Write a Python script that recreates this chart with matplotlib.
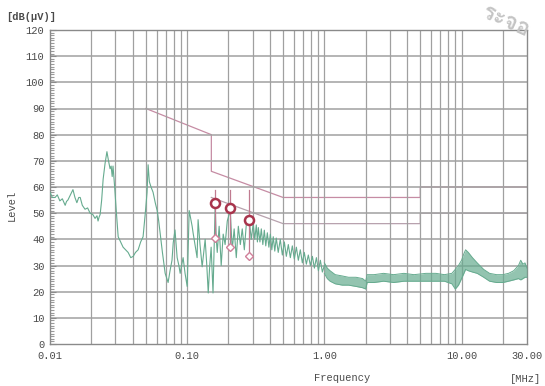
import matplotlib
matplotlib.use("Agg")
import matplotlib.pyplot as plt
from matplotlib.ticker import FixedLocator, NullFormatter, NullLocator, MultipleLocator
from matplotlib import font_manager

# ---- measured trace, 10 kHz .. 1 MHz (frequency in MHz, level in dB(uV)) ----
trace_freq = [
    0.0100, 0.0104, 0.0109, 0.0113, 0.0118, 0.0123, 0.0129, 0.0132, 0.0135, 0.0141,
    0.0147, 0.0152, 0.0157, 0.0162, 0.0166, 0.0172, 0.0180, 0.0188, 0.0196, 0.0205,
    0.0213, 0.0220, 0.0224, 0.0228, 0.0232, 0.0238, 0.0244, 0.0252, 0.0260, 0.0267,
    0.0274, 0.0279, 0.0284, 0.0288, 0.0296, 0.0305, 0.0314, 0.0327, 0.0341, 0.0356,
    0.0371, 0.0388, 0.0404, 0.0420, 0.0439, 0.0458, 0.0477, 0.0495, 0.0510, 0.0519,
    0.0530, 0.0545, 0.0564, 0.0585, 0.0604, 0.0620, 0.0635, 0.0660, 0.0691, 0.0710,
    0.0726, 0.0750, 0.0775, 0.0791, 0.0815, 0.0830, 0.0845, 0.0870, 0.0889, 0.0910,
    0.0934, 0.0965, 0.1000, 0.1034, 0.1060, 0.1087, 0.1104, 0.1140, 0.1181, 0.1201,
    0.1240, 0.1286, 0.1320, 0.1352, 0.1390, 0.1424, 0.1460, 0.1495, 0.1520, 0.1543,
    0.1600, 0.1630, 0.1656, 0.1710, 0.1770, 0.1830, 0.1890, 0.1960, 0.2060, 0.2130,
    0.2200, 0.2280, 0.2360, 0.2440, 0.2520, 0.2610, 0.2700, 0.2840, 0.2930, 0.3030,
    0.3110, 0.3190, 0.3250, 0.3300, 0.3390, 0.3470, 0.3560, 0.3650, 0.3740, 0.3840,
    0.3940, 0.4040, 0.4140, 0.4240, 0.4350, 0.4460, 0.4610, 0.4770, 0.4940, 0.5110,
    0.5280, 0.5460, 0.5650, 0.5840, 0.6040, 0.6250, 0.6460, 0.6680, 0.6910, 0.7140,
    0.7390, 0.7640, 0.7910, 0.8180, 0.8460, 0.8750, 0.9050, 0.9350, 0.9670, 1.0000,
]
trace_level = [
    58.0, 56.0, 56.0, 57.0, 54.7, 55.5, 53.0, 54.5, 55.0, 57.0,
    59.0, 56.0, 54.0, 56.0, 56.0, 53.0, 51.5, 52.0, 50.0, 49.5,
    48.0, 49.0, 47.0, 48.5, 49.5, 55.0, 63.0, 69.0, 73.5, 70.0,
    67.0, 68.0, 64.0, 68.0, 60.0, 50.0, 41.0, 39.0, 37.0, 36.0,
    35.0, 33.0, 33.5, 35.0, 36.0, 39.0, 41.0, 50.0, 58.0, 68.5,
    62.0, 60.0, 58.0, 54.0, 51.0, 47.0, 42.5, 35.0, 27.0, 25.0,
    23.5, 28.0, 32.0, 38.6, 43.6, 38.0, 33.0, 30.0, 27.0, 30.0,
    33.0, 27.0, 22.0, 51.0, 48.0, 45.0, 42.5, 38.0, 33.0, 47.5,
    38.0, 29.5, 35.0, 40.0, 30.0, 19.5, 30.0, 37.0, 28.0, 19.5,
    53.0, 40.0, 35.0, 45.0, 30.0, 42.0, 38.0, 47.0, 51.0, 36.0,
    44.0, 33.0, 45.0, 38.0, 44.0, 36.0, 46.0, 47.0, 40.0, 46.0,
    40.0, 45.5, 39.0, 44.5, 39.0, 44.0, 38.0, 43.5, 37.5, 42.5,
    37.0, 42.0, 36.0, 41.0, 35.5, 40.5, 35.0, 40.0, 34.0, 39.0,
    33.5, 38.0, 33.0, 37.5, 32.5, 37.0, 32.0, 36.0, 31.0, 35.0,
    30.5, 34.0, 30.0, 33.5, 29.0, 33.0, 28.0, 32.0, 27.5, 30.0,
]

# ---- measured trace envelope, 1 MHz .. 30 MHz ----
band_freq = [1.00, 1.05, 1.10, 1.20, 1.35, 1.50, 1.70, 1.90, 2.00, 2.05,
             2.30, 2.70, 3.20, 3.80, 4.50, 5.50, 6.50, 7.50, 8.50, 9.00,
             9.50, 10.0, 10.4, 10.7, 11.2, 12.0, 13.0, 14.5, 16.0, 18.0,
             20.0, 22.0, 24.0, 26.0, 27.0, 28.0, 29.0, 30.0]
band_upper = [31.0, 29.0, 28.0, 26.5, 26.0, 25.5, 25.5, 25.0, 24.0, 26.5,
              26.5, 27.0, 26.5, 27.0, 26.5, 27.0, 27.0, 26.5, 27.0, 28.5,
              30.0, 32.0, 34.5, 36.0, 35.0, 33.0, 31.0, 28.5, 27.0, 26.5,
              26.5, 27.0, 28.0, 30.0, 32.0, 30.5, 31.0, 29.0]
band_lower = [27.0, 25.0, 24.0, 23.0, 22.5, 22.5, 22.0, 21.5, 21.0, 23.5,
              23.5, 24.0, 23.5, 24.0, 24.0, 24.0, 24.0, 24.0, 23.0, 21.0,
              22.5, 25.0, 27.0, 28.5, 28.0, 27.5, 27.0, 25.5, 24.0, 23.5,
              23.5, 24.0, 24.5, 25.0, 24.5, 25.0, 25.5, 25.5]

# ---- limit lines (quasi-peak and average) ----
qp_limit_freq = [0.05, 0.15, 0.15, 0.50, 5.00, 5.00, 30.0]
qp_limit_level = [90.0, 80.0, 66.0, 56.0, 56.0, 60.0, 60.0]
av_limit_freq = [0.15, 0.50, 5.00, 5.00, 30.0]
av_limit_level = [56.0, 46.0, 46.0, 50.0, 50.0]

# ---- final measurement points ----
peak_freq = [0.160, 0.206, 0.284]
qp_values = [54.0, 52.0, 47.2]
av_values = [40.7, 37.0, 33.8]

x_tick_values = [0.01, 0.1, 1.0, 10.0, 30.0]
x_tick_labels = ["0.01", "0.10", "1.00", "10.00", "30.00"]
y_tick_values = list(range(0, 121, 10))

mono = "Liberation Mono"
text_color = "#4a4a4a"
grid_color = "#a0a0a0"
trace_color = "#66ab8f"

fig = plt.figure(figsize=(5.45, 3.86), dpi=100)
fig.patch.set_facecolor("white")
ax = fig.add_axes([50 / 545, 1 - 344 / 386, 477 / 545, 314 / 386])
ax.set_xscale("log")
ax.set_xlim(0.01, 30)
ax.set_ylim(0, 120)

# grid
grid_x = [m * 10.0 ** e for e in (-2, -1, 0) for m in range(1, 10)] + [10.0, 20.0]
for gx in grid_x[1:]:
    ax.axvline(gx, color=grid_color, lw=0.9, zorder=1)
for gy in y_tick_values[1:-1]:
    ax.axhline(gy, color=grid_color, lw=1.1, zorder=1)

# limits (under the grid, so the 50/60 dB stretches merge with the grid lines)
ax.plot(qp_limit_freq, qp_limit_level, color="#c68ca4", lw=0.9, zorder=0.8)
ax.plot(av_limit_freq, av_limit_level, color="#b8a2ae", lw=0.9, zorder=0.8)

# spectrum
ax.plot(trace_freq, trace_level, color=trace_color, lw=0.8, zorder=3)
ax.fill_between(band_freq, band_lower, band_upper, color=trace_color,
                lw=0, alpha=0.7, zorder=3)
ax.plot(band_freq, band_upper, color=trace_color, lw=0.7, zorder=3)
ax.plot(band_freq, band_lower, color=trace_color, lw=0.7, zorder=3)

# measurement markers
for f, q, a in zip(peak_freq, qp_values, av_values):
    ax.plot([f, f], [a, 59.0], color="#c07b90", lw=0.9, zorder=4)
ax.plot(peak_freq, av_values, linestyle="none", marker="D", ms=4.5,
        mfc="white", mec="#d0809a", mew=1.0, zorder=5)
ax.plot(peak_freq, qp_values, linestyle="none", marker="o", ms=6.5,
        mfc="white", mec="#a8344c", mew=1.8, zorder=5)

# axes styling
for side, sp in ax.spines.items():
    sp.set_color("#8a8a8a")
    sp.set_linewidth(1.0)
ax.xaxis.set_major_locator(FixedLocator(x_tick_values))
ax.xaxis.set_minor_locator(NullLocator())
ax.xaxis.set_minor_formatter(NullFormatter())
ax.set_xticklabels(x_tick_labels)
ax.set_yticks(y_tick_values)
ax.yaxis.set_minor_locator(MultipleLocator(1))
ax.tick_params(axis="x", which="major", length=0, pad=5, labelsize=7.5,
               labelcolor=text_color)
ax.tick_params(axis="y", which="major", direction="in", length=4, color="#8a8a8a",
               pad=4, labelsize=7.5, labelcolor=text_color)
ax.tick_params(axis="y", which="minor", direction="in", length=3, color="#9a9a9a",
               width=0.8)
for lab in ax.get_xticklabels() + ax.get_yticklabels():
    lab.set_family(mono)

fig.text(12 / 545, 1 - 205 / 386, "Level", rotation=90, ha="center", va="center",
         family=mono, fontsize=7.5, color=text_color)
fig.text(342 / 545, 1 - 378 / 386, "Frequency", ha="center", va="center",
         family=mono, fontsize=7.5, color=text_color)
fig.text(541 / 545, 1 - 379 / 386, "[MHz]", ha="right", va="center",
         family=mono, fontsize=7.5, color=text_color)
fig.text(6 / 545, 1 - 17 / 386, "[dB(\u03bcV)]", ha="left", va="center",
         family=mono, fontsize=7.5, color=text_color, weight="bold")

# faint stamp in the corner, drawn only if a font with Thai glyphs is present
def _thai_font():
    try:
        from fontTools.ttLib import TTFont
    except Exception:
        return None
    for fe in font_manager.fontManager.ttflist:
        try:
            tt = TTFont(fe.fname, fontNumber=0, lazy=True)
            cmap = tt.getBestCmap() or {}
            if 0x0E08 in cmap and 0x0E2D in cmap:
                return fe.name
        except Exception:
            continue
    return None

thai = _thai_font()
if thai:
    fig.text(506 / 545, 1 - 22 / 386, "\u0e23\u0e30\u0e08\u0e2d", rotation=-24,
             ha="center", va="center", family=thai, fontsize=16,
             color="#c4c4c4", weight="bold")

fig.savefig("out.png", dpi=100, facecolor="white")
